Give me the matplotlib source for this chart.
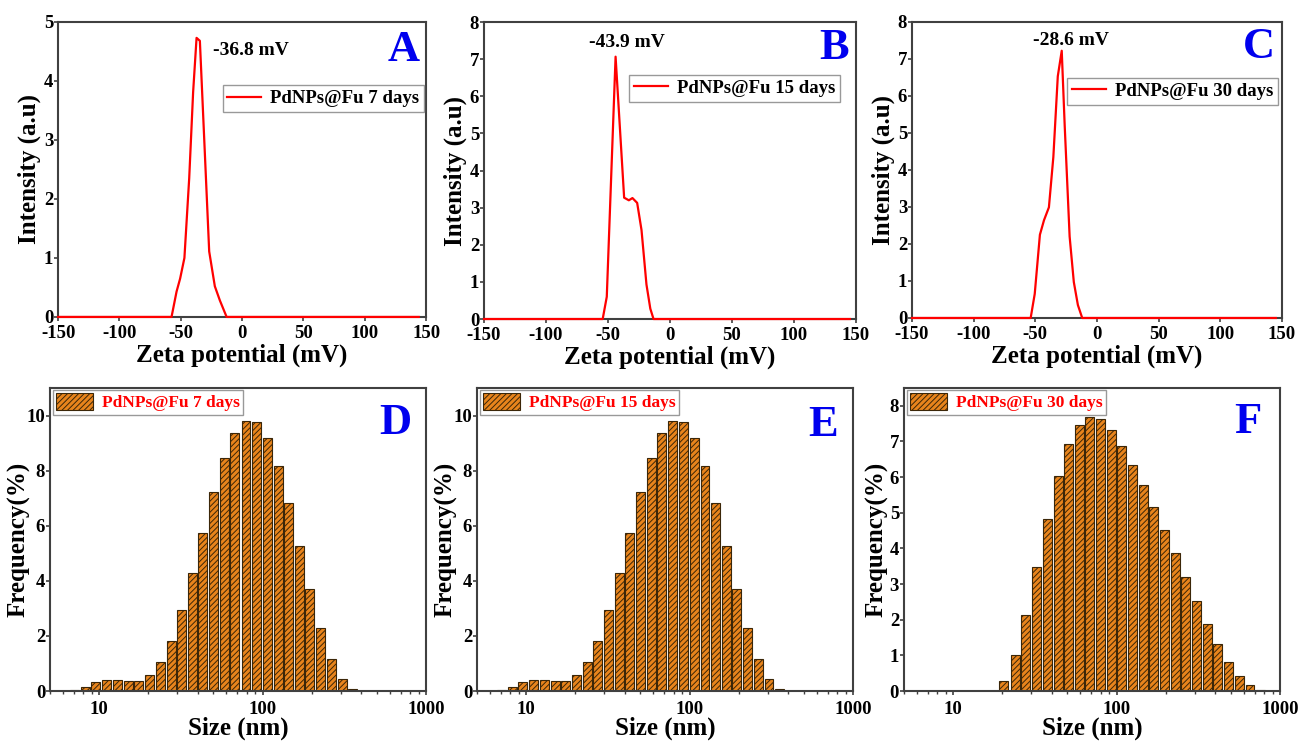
import matplotlib
matplotlib.use('Agg')
import matplotlib.pyplot as plt
import numpy as np
from matplotlib.ticker import FixedLocator, NullFormatter, LogLocator

plt.rcParams['font.family'] = ['Liberation Serif', 'DejaVu Serif']
plt.rcParams['font.weight'] = 'bold'
plt.rcParams['axes.unicode_minus'] = False
plt.rcParams['hatch.linewidth'] = 0.7

# zeta potential curves (mV, a.u.)
zeta_A_x = [-150, -57.5, -53.4, -50.5, -47.0, -43.1, -39.9, -37.1, -34.4, -26.8, -22.2, -18.1, -12.6, 144]
zeta_A_y = [0, 0, 0.43, 0.65, 1.0, 2.35, 3.81, 4.73, 4.68, 1.11, 0.52, 0.28, 0, 0]

zeta_B_x = [-150, -54.3, -51.0, -43.9, -37.0, -33.2, -30.3, -26.5, -23.0, -19.0, -15.9, -13.3, 145]
zeta_B_y = [0, 0, 0.6, 7.07, 3.27, 3.2, 3.26, 3.13, 2.4, 0.93, 0.28, 0, 0]

zeta_C_x = [-150, -53.8, -50.5, -46.3, -43.0, -39.0, -35.4, -31.8, -28.6, -26.2, -22.2, -18.8, -15.5, -12.0, 145]
zeta_C_y = [0, 0, 0.65, 2.25, 2.64, 2.99, 4.35, 6.53, 7.22, 5.2, 2.2, 0.97, 0.35, 0, 0]

zeta_labels = ['-36.8 mV', '-43.9 mV', '-28.6 mV']
days = ['PdNPs@Fu 7 days', 'PdNPs@Fu 15 days', 'PdNPs@Fu 30 days']

# size distributions (nm, %)
size_D = [7.03, 8.21, 9.54, 11.1, 12.9, 15.1, 17.5, 20.3, 23.6, 27.5, 31.9, 37.1, 43.1, 50.1,
          58.5, 67.7, 79.1, 91.5, 106.4, 124.2, 144.3, 167.6, 194.8, 226.4, 263.1, 306, 356]
freq_D = [0.03, 0.16, 0.31, 0.41, 0.41, 0.37, 0.38, 0.58, 1.05, 1.83, 2.93, 4.28, 5.74, 7.21,
          8.45, 9.37, 9.82, 9.78, 9.2, 8.17, 6.81, 5.25, 3.69, 2.28, 1.16, 0.42, 0.07]

size_E = [7.03, 8.21, 9.54, 11.1, 12.9, 15.1, 17.5, 20.3, 23.6, 27.5, 31.9, 37.1, 43.1, 50.1,
          58.5, 67.7, 79.1, 91.5, 106.4, 124.2, 144.3, 167.6, 194.8, 226.4, 263.1, 306, 356]
freq_E = [0.03, 0.16, 0.31, 0.41, 0.41, 0.37, 0.38, 0.58, 1.05, 1.83, 2.93, 4.28, 5.74, 7.21,
          8.45, 9.37, 9.82, 9.78, 9.2, 8.17, 6.81, 5.25, 3.69, 2.28, 1.16, 0.42, 0.07]

size_F = [20.4, 23.9, 27.7, 32.2, 37.6, 43.8, 50.8, 59.0, 68.7, 79.8, 92.7, 107.8, 125.3,
          145.6, 169.3, 196.8, 228.6, 265.6, 309, 359, 417, 485, 563, 655, 762]
freq_F = [0.27, 1.02, 2.14, 3.48, 4.83, 6.02, 6.92, 7.47, 7.68, 7.62, 7.32, 6.88, 6.35,
          5.77, 5.16, 4.52, 3.86, 3.20, 2.53, 1.89, 1.32, 0.82, 0.43, 0.17, 0.03]

fig = plt.figure(figsize=(12.99, 7.44), dpi=100)

SPINE = '#404040'
TICK_FS = 13.5
LAB_FS = 18


def style(ax):
    for s in ax.spines.values():
        s.set_color(SPINE)
        s.set_linewidth(1.5)
    ax.tick_params(direction='out', width=1.2, length=3, labelsize=TICK_FS, color=SPINE, pad=0.5)
    for t in ax.get_xticklabels() + ax.get_yticklabels():
        t.set_fontweight('bold')


# top row: zeta potential
top_rects = [[0.0447, 0.574, 0.2833, 0.3965], [0.3726, 0.5712, 0.2864, 0.399], [0.7021, 0.5726, 0.2848, 0.398]]
zx = [zeta_A_x, zeta_B_x, zeta_C_x]
zy = [zeta_A_y, zeta_B_y, zeta_C_y]
ymax = [5, 8, 8]
ann_pos = [(-24, 4.52, 'left'), (-34.7, 7.44, 'center'), (-20.7, 7.49, 'center')]
letter_pos = [(0.94, 0.905), (0.941, 0.912), (0.938, 0.914)]
leg_anchor = [(0.995, 0.785), (0.957, 0.822), (0.99, 0.81)]
letters_top = ['A', 'B', 'C']

for i in range(3):
    ax = fig.add_axes(top_rects[i])
    ax.plot(zx[i], zy[i], color='red', lw=1.6, label=days[i], zorder=3, clip_on=False)
    ax.set_xlim(-150, 150)
    ax.set_ylim(0, ymax[i])
    ax.set_xticks([-150, -100, -50, 0, 50, 100, 150])
    ax.set_yticks(range(0, ymax[i] + 1))
    ax.set_xlabel('Zeta potential (mV)', fontsize=LAB_FS, fontweight='bold', labelpad=1)
    ax.set_ylabel('Intensity (a.u)', fontsize=LAB_FS, fontweight='bold', labelpad=2)
    style(ax)
    ax.tick_params(axis='x', pad=3)
    ax.text(ann_pos[i][0], ann_pos[i][1], zeta_labels[i], fontsize=14, fontweight='bold',
            ha=ann_pos[i][2], va='center')
    ax.text(letter_pos[i][0], letter_pos[i][1], letters_top[i], transform=ax.transAxes,
            fontsize=32, fontweight='bold', color='#0000ee', ha='center', va='center')
    leg = ax.legend(loc='upper right', bbox_to_anchor=leg_anchor[i], fancybox=False,
                    edgecolor='#808080', prop={'weight': 'bold', 'size': 13.5},
                    handlelength=1.8, borderpad=0.25, handletextpad=0.5, borderaxespad=0)
    leg.get_frame().set_linewidth(1.0)

# bottom row: size distributions
bot_rects = [[0.0385, 0.0712, 0.2895, 0.4073], [0.3672, 0.0712, 0.2895, 0.4073], [0.6959, 0.0712, 0.2895, 0.4073]]
sizes = [size_D, size_E, size_F]
freqs = [freq_D, freq_E, freq_F]
ylims = [11, 11, 8.5]
yticks = [range(0, 11, 2), range(0, 11, 2), range(0, 9)]
ylabpad = [-3, -3, 1]
letter_pos_b = [(0.918, 0.885), (0.92, 0.878), (0.915, 0.888)]
letters_bot = ['D', 'E', 'F']
half = 0.0275  # half bar width in decades

for i in range(3):
    ax = fig.add_axes(bot_rects[i])
    s = np.array(sizes[i])
    left = s * 10 ** (-half)
    width = s * 10 ** half - left
    ax.bar(left, freqs[i], width=width, align='edge', color='#e8841c', edgecolor='#3b2608',
           hatch='//////', linewidth=0.8, label=days[i])
    ax.set_xscale('log')
    ax.set_xlim(5, 1000)
    ax.set_ylim(0, ylims[i])
    ax.xaxis.set_major_locator(FixedLocator([10, 100, 1000]))
    ax.set_xticklabels(['10', '100', '1000'])
    ax.xaxis.set_minor_locator(LogLocator(base=10, subs=np.arange(2, 10)))
    ax.xaxis.set_minor_formatter(NullFormatter())
    ax.set_yticks(list(yticks[i]))
    ax.set_xlabel('Size (nm)', fontsize=LAB_FS, fontweight='bold', labelpad=-1)
    ax.set_ylabel('Frequency(%)', fontsize=LAB_FS, fontweight='bold', labelpad=ylabpad[i])
    style(ax)
    ax.tick_params(axis='x', which='major', pad=4)
    ax.tick_params(axis='x', which='minor', direction='out', length=2.5, width=1.0, color=SPINE)
    ax.text(letter_pos_b[i][0], letter_pos_b[i][1], letters_bot[i], transform=ax.transAxes,
            fontsize=32, fontweight='bold', color='#0000ee', ha='center', va='center')
    leg = ax.legend(loc='upper left', bbox_to_anchor=(0.008, 0.995), fancybox=False,
                    edgecolor='#808080', prop={'weight': 'bold', 'size': 12.5},
                    handlelength=2.1, handleheight=1.1, borderpad=0.2, handletextpad=0.5,
                    borderaxespad=0)
    leg.get_frame().set_linewidth(1.0)
    for t in leg.get_texts():
        t.set_color('red')

fig.savefig('out.png', dpi=100)
